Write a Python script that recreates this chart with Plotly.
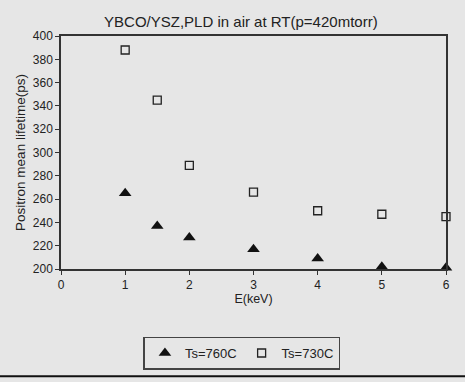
import plotly.graph_objects as go

energy = [1, 1.5, 2, 3, 4, 5, 6]
ts760 = [265, 237, 227, 217, 209, 202, 201]
ts730 = [388, 345, 289, 266, 250, 247, 245]
x_ticks = [0, 1, 2, 3, 4, 5, 6]
y_ticks = [200, 220, 240, 260, 280, 300, 320, 340, 360, 380, 400]

FONT = "Liberation Sans, Arial, sans-serif"
bg = "#e6e6e6"
fig = go.Figure()
fig.add_trace(go.Scatter(
    x=energy, y=ts760, mode="markers", name="Ts=760C",
    marker=dict(symbol="triangle-up", size=11, color="#111111"),
    cliponaxis=False,
))
fig.add_trace(go.Scatter(
    x=energy, y=ts730, mode="markers", name="Ts=730C",
    marker=dict(symbol="square-open", size=8, color="#222222", line=dict(width=1.3)),
    cliponaxis=False,
))

axis_common = dict(
    showgrid=False, zeroline=False, showline=True, linecolor="#333333", linewidth=1.5,
    mirror=True, ticks="outside", ticklen=4, tickcolor="#333333", automargin=False,
    tickfont=dict(family=FONT, size=12, color="#222222"),
)
fig.update_xaxes(range=[0, 6], tickvals=x_ticks,
                 title=dict(text="E(keV)", font=dict(family=FONT, size=12.5, color="#222222"), standoff=0),
                 **axis_common)
fig.update_yaxes(range=[200, 400], tickvals=y_ticks,
                 title=dict(text="Positron mean lifetime(ps)", font=dict(family=FONT, size=13.5, color="#222222"), standoff=4),
                 **axis_common)

fig.update_layout(
    width=465, height=382,
    paper_bgcolor=bg, plot_bgcolor=bg,
    margin=dict(l=61, r=19, t=36, b=109),
    title=dict(text="YBCO/YSZ,PLD in air at RT(p=420mtorr)", x=0.518, xanchor="center", y=0.943, yanchor="middle",
               font=dict(family=FONT, size=15, color="#222222")),
    showlegend=True,
    legend=dict(orientation="h", x=0.47, xanchor="center", y=-0.29, yanchor="top",
                bgcolor=bg, bordercolor="#444444", borderwidth=1.5, itemwidth=30,
                font=dict(family=FONT, size=13, color="#222222")),
    shapes=[dict(type="line", xref="paper", yref="paper", x0=-0.2, x1=1.1, y0=-0.46, y1=-0.46,
                 line=dict(color="#111111", width=2))],
)
fig.write_html("out.html", config={"displayModeBar": False},
               post_script="document.body.style.margin='0';document.body.style.overflow='hidden';document.body.style.background='#e6e6e6';")
